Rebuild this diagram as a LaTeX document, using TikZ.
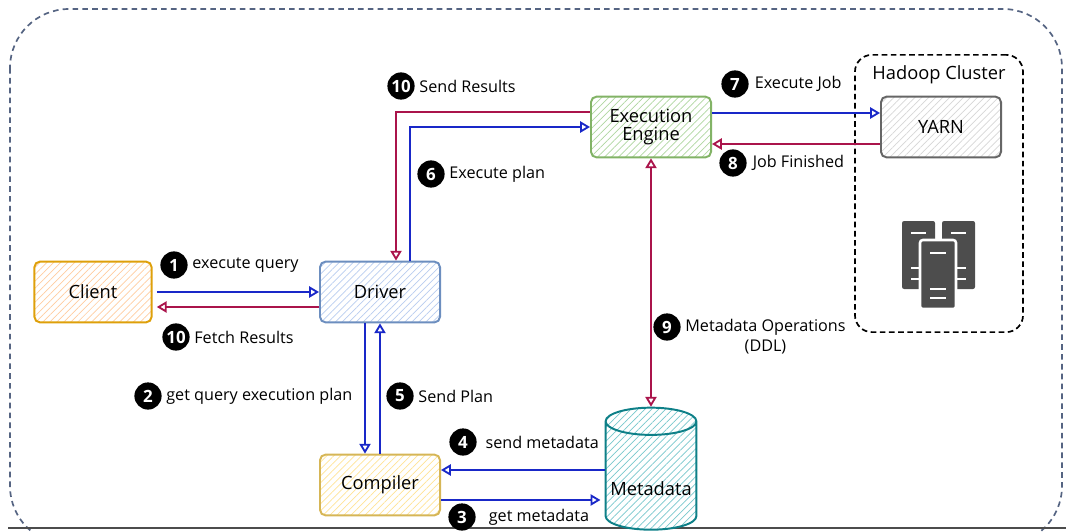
\documentclass[tikz,border=0pt]{standalone}
\usepackage{fontspec}
\setmainfont{Open Sans}
\usetikzlibrary{arrows.meta,positioning,calc,shapes.geometric,patterns.meta}
\definecolor{blu}{RGB}{25,40,200}
\definecolor{rd}{RGB}{170,20,75}
\definecolor{outerline}{RGB}{85,100,130}
\definecolor{clientline}{RGB}{222,160,10}
\definecolor{clienthatch}{RGB}{255,205,160}
\definecolor{driverline}{RGB}{108,142,191}
\definecolor{driverhatch}{RGB}{185,205,240}
\definecolor{engineline}{RGB}{130,179,102}
\definecolor{enginehatch}{RGB}{175,215,160}
\definecolor{yarnline}{RGB}{102,102,102}
\definecolor{yarnhatch}{RGB}{215,215,215}
\definecolor{compline}{RGB}{214,182,86}
\definecolor{comphatch}{RGB}{255,228,150}
\definecolor{metaline}{RGB}{14,128,136}
\definecolor{metahatch}{RGB}{120,200,205}
\definecolor{srv}{RGB}{77,77,77}

\begin{document}
\begin{tikzpicture}[x=0.025cm, y=-0.025cm,
  every node/.style={font=\fontsize{11.5}{13}\selectfont},
  hatch/.style={preaction={fill=white}, pattern={Lines[angle=45,distance=3.5pt,line width=0.5pt]}, pattern color=#1},
  box/.style 2 args={draw=#1, hatch=#2, line width=1.4pt, rounded corners=4pt,
    minimum width=3cm, minimum height=1.52cm, font=\fontsize{13}{15}\selectfont},
  badge/.style={circle, fill=black, text=white, minimum size=0.68cm, inner sep=0pt,
    font=\fontsize{12}{13}\selectfont\bfseries},
  tag/.style={inner sep=1pt},
  bluarrow/.style={draw=blu, line width=1.3pt, -{Triangle[open,length=7pt,width=8pt]}},
  redarrow/.style={draw=rd, line width=1.3pt, -{Triangle[open,length=7pt,width=8pt]}}]
\useasboundingbox (0,0) rectangle (1066,532);
% outer frame
\begin{scope}
\clip (0,0) rectangle (1066,532);
\draw[outerline, line width=1.2pt, dash pattern=on 4pt off 3pt, rounded corners=42pt] (10,9) rectangle (1062,545);
\end{scope}
\draw[black!70, line width=1pt] (8,528) -- (1066,528);

% components
\node[box={clientline}{clienthatch}, minimum width=2.93cm] (client) at (93,292) {Client};
\node[box={driverline}{driverhatch}] (driver) at (380,292) {Driver};
\node[box={engineline}{enginehatch}, align=center] (engine) at (651,127) {Execution\\[-2pt]Engine};
\node[box={yarnline}{yarnhatch}] (yarn) at (941,127) {YARN};
\node[box={compline}{comphatch}] (compiler) at (380,485) {Compiler};
\node[cylinder, shape border rotate=90, aspect=0.3, draw=metaline, hatch=metahatch, line width=1.4pt,
  minimum width=2.25cm, minimum height=3.05cm, font=\fontsize{13}{15}\selectfont] (meta) at (651,479)
  {\raisebox{-12pt}[0pt][0pt]{Metadata}};

% hadoop cluster
\node[draw, line width=1.2pt, dash pattern=on 4pt off 2.5pt, rounded corners=12pt,
  minimum width=4.2cm, minimum height=6.93cm] (cluster) at (939,193.5) {};
\node[below=5pt of cluster.north, font=\fontsize{13}{15}\selectfont] (clustertitle) {Hadoop Cluster};

% server icon
\fill[srv, rounded corners=1.5pt] (902,221) rectangle (935,289);
\fill[srv, rounded corners=1.5pt] (942,221) rectangle (975,289);
\draw[white, line width=1.2pt] (911,233) -- (926,233) (951,233) -- (966,233)
  (911,268) -- (926,268) (911,279) -- (926,279) (951,268) -- (966,268) (951,279) -- (966,279);
\draw[white, fill=srv, line width=1.8pt, rounded corners=2pt] (920,240) rectangle (956,309);
\draw[white, line width=1.2pt] (930,253) -- (946,253) (930,289) -- (946,289) (930,298) -- (946,298);

% connectors
\draw[bluarrow, shorten <=3pt] (client.east) -- (driver.west);
\draw[redarrow, shorten >=3pt] ($(driver.west)+(0,15)$) -- ($(client.east)+(0,15)$);
\draw[bluarrow] ($(driver.south)+(-15,0)$) -- ($(compiler.north)+(-15,0)$);
\draw[bluarrow] (compiler.north) -- (driver.south);
\coordinate (c4) at ($(compiler.east)+(0,-15)$);
\coordinate (c3) at ($(compiler.east)+(0,15)$);
\draw[bluarrow] (c4 -| meta.west) -- (c4);
\draw[bluarrow, shorten >=3pt] (c3) -- (c3 -| meta.west);
\draw[bluarrow] ($(driver.north)+(30,0)$) |- (engine.west);
\draw[redarrow] ($(engine.west)+(0,-15)$) -| ($(driver.north)+(16,0)$);
\draw[bluarrow] ($(engine.east)+(0,-14)$) -- ($(yarn.west)+(0,-14)$);
\draw[redarrow] ($(yarn.west)+(0,17)$) -- ($(engine.east)+(0,17)$);
\draw[redarrow, {Triangle[open,length=7pt,width=8pt]}-{Triangle[open,length=7pt,width=8pt]}] (engine.south) -- (engine.south |- meta.north);

% labels
\node[badge] (num1) at (174,265) {1};
\node[tag, right=2pt of num1] (txt1) {execute query};
\node[badge] (num10a) at (176,337) {10};
\node[tag, right=2pt of num10a] (txt10a) {Fetch Results};
\node[badge] (num2) at (148,396) {2};
\node[tag, right=2pt of num2] (txt2) {get query execution plan};
\node[badge] (num5) at (400,396) {5};
\node[tag, right=2pt of num5] (txt5) {Send Plan};
\node[badge] (num4) at (463,442) {4};
\node[tag, right=5pt of num4] (txt4) {send metadata};
\node[badge] (num3) at (462,517) {3};
\node[tag, right=8pt of num3] (txt3) {get metadata};
\node[badge] (num6) at (431,174) {6};
\node[tag, right=2pt of num6] (txt6) {Execute plan};
\node[badge] (num10b) at (401,86) {10};
\node[tag, right=2pt of num10b] (txt10b) {Send Results};
\node[badge] (num7) at (735,84) {7};
\node[tag, right=3pt of num7] (txt7) {Execute Job};
\node[badge] (num8) at (733,163) {8};
\node[tag, right=3pt of num8] (txt8) {Job Finished};
\node[badge] (num9) at (667,327) {9};
\node[tag, right=2pt of num9] (txt9) {Metadata Operations};
\node[tag, below=1pt of txt9] (txt9b) {(DDL)};
\end{tikzpicture}
\end{document}
